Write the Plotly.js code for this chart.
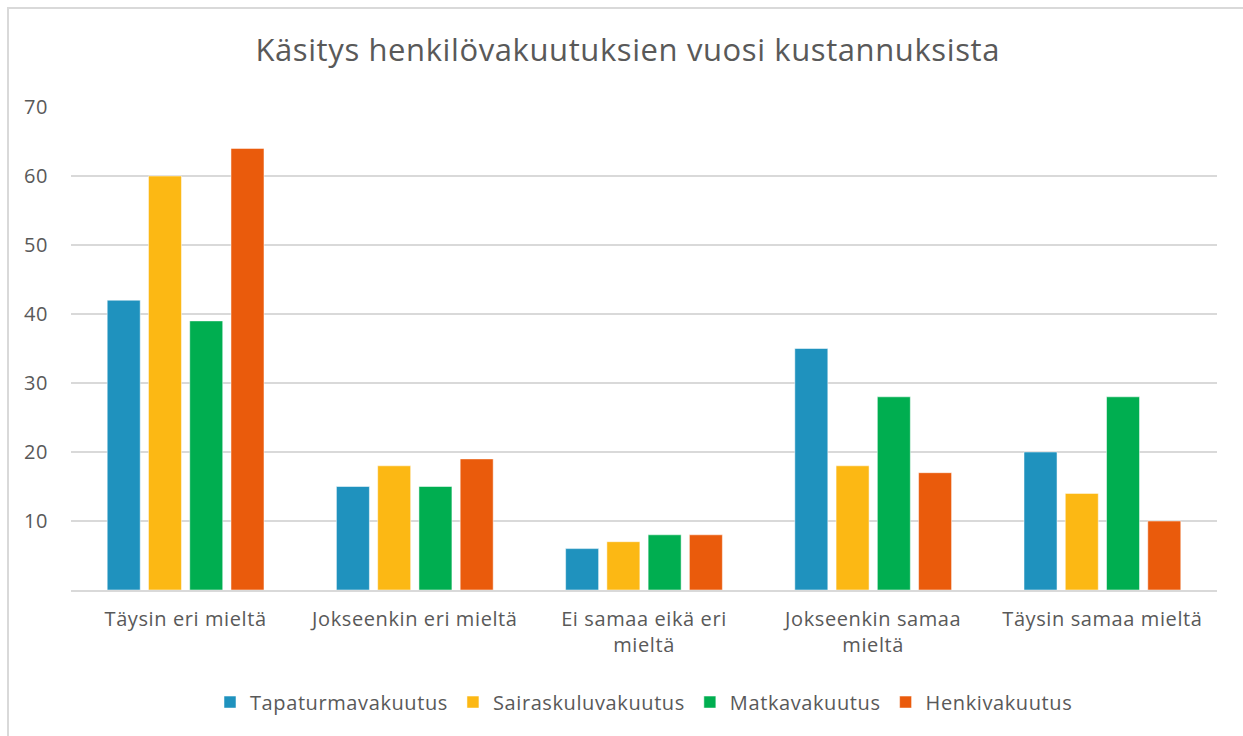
<!DOCTYPE html>
<html>
<head>
<meta charset="utf-8">
<script src="https://cdn.plot.ly/plotly-3.0.1.min.js"></script>
<style>
  html, body { margin: 0; padding: 0; background: #fff; overflow: hidden; }
  svg text { letter-spacing: 0.6px; }
  #frame { position: absolute; left: 7px; top: 7px; width: 1250px; height: 760px; border: 2px solid #D9D9D9; box-sizing: border-box; }
  #chart { position: absolute; left: 0; top: 0; width: 1243px; height: 736px; }
</style>
</head>
<body>
<div id="frame"></div>
<div id="chart"></div>
<script>
const categories = ["Täysin eri mieltä", "Jokseenkin eri mieltä", "Ei samaa eikä eri<br>mieltä", "Jokseenkin samaa<br>mieltä", "Täysin samaa mieltä"];
const seriesNames = ["Tapaturmavakuutus", "Sairaskuluvakuutus", "Matkavakuutus", "Henkivakuutus"];
const tapaturma = [42, 15, 6, 35, 20];
const sairaskulu = [60, 18, 7, 18, 14];
const matka = [39, 15, 8, 28, 28];
const henki = [64, 19, 8, 17, 10];
const colors = ["#1F92BE", "#FCB814", "#00AE50", "#EA5B0C"];
const yTicks = [10, 20, 30, 40, 50, 60, 70];

const values = [tapaturma, sairaskulu, matka, henki];
const traces = values.map((v, i) => ({
  type: "bar",
  name: seriesNames[i],
  x: categories,
  y: v,
  marker: { color: colors[i], line: { color: "rgba(255,255,255,0.5)", width: 1 } },
  hoverinfo: "x+y+name"
}));

const font = "'Open Sans', 'Noto Sans', sans-serif";
const layout = {
  width: 1243, height: 736,
  paper_bgcolor: "rgba(0,0,0,0)", plot_bgcolor: "rgba(0,0,0,0)",
  margin: { l: 71, r: 26, t: 107, b: 146 },
  title: { text: "Käsitys henkilövakuutuksien vuosi kustannuksista", font: { family: font, size: 31, color: "#595959" }, x: 0.505, xanchor: "center", y: 0.932, yanchor: "middle" },
  barmode: "group",
  bargap: 0.28,
  bargroupgap: 0.2,
  xaxis: {
    type: "category",
    showgrid: false,
    showline: true, linecolor: "#D9D9D9", linewidth: 2,
    ticks: "", tickfont: { family: font, size: 20, color: "#595959" },
    ticklabelstandoff: 10,
    fixedrange: true
  },
  yaxis: {
    range: [0, 70],
    tickvals: yTicks,
    ticktext: yTicks.map(String),
    showgrid: true, gridcolor: "#D9D9D9", gridwidth: 1.5,
    zeroline: false, showline: false,
    ticks: "", tickfont: { family: font, size: 20, color: "#595959" },
    ticklabelstandoff: 22,
    fixedrange: true
  },
  legend: {
    orientation: "h", x: 0.5, xanchor: "center", y: -0.232, yanchor: "middle",
    font: { family: font, size: 20, color: "#595959" },
    itemwidth: 30, traceorder: "normal"
  },
  showlegend: true
};

Plotly.newPlot("chart", traces, layout, { displayModeBar: false, staticPlot: true });
</script>
</body>
</html>
